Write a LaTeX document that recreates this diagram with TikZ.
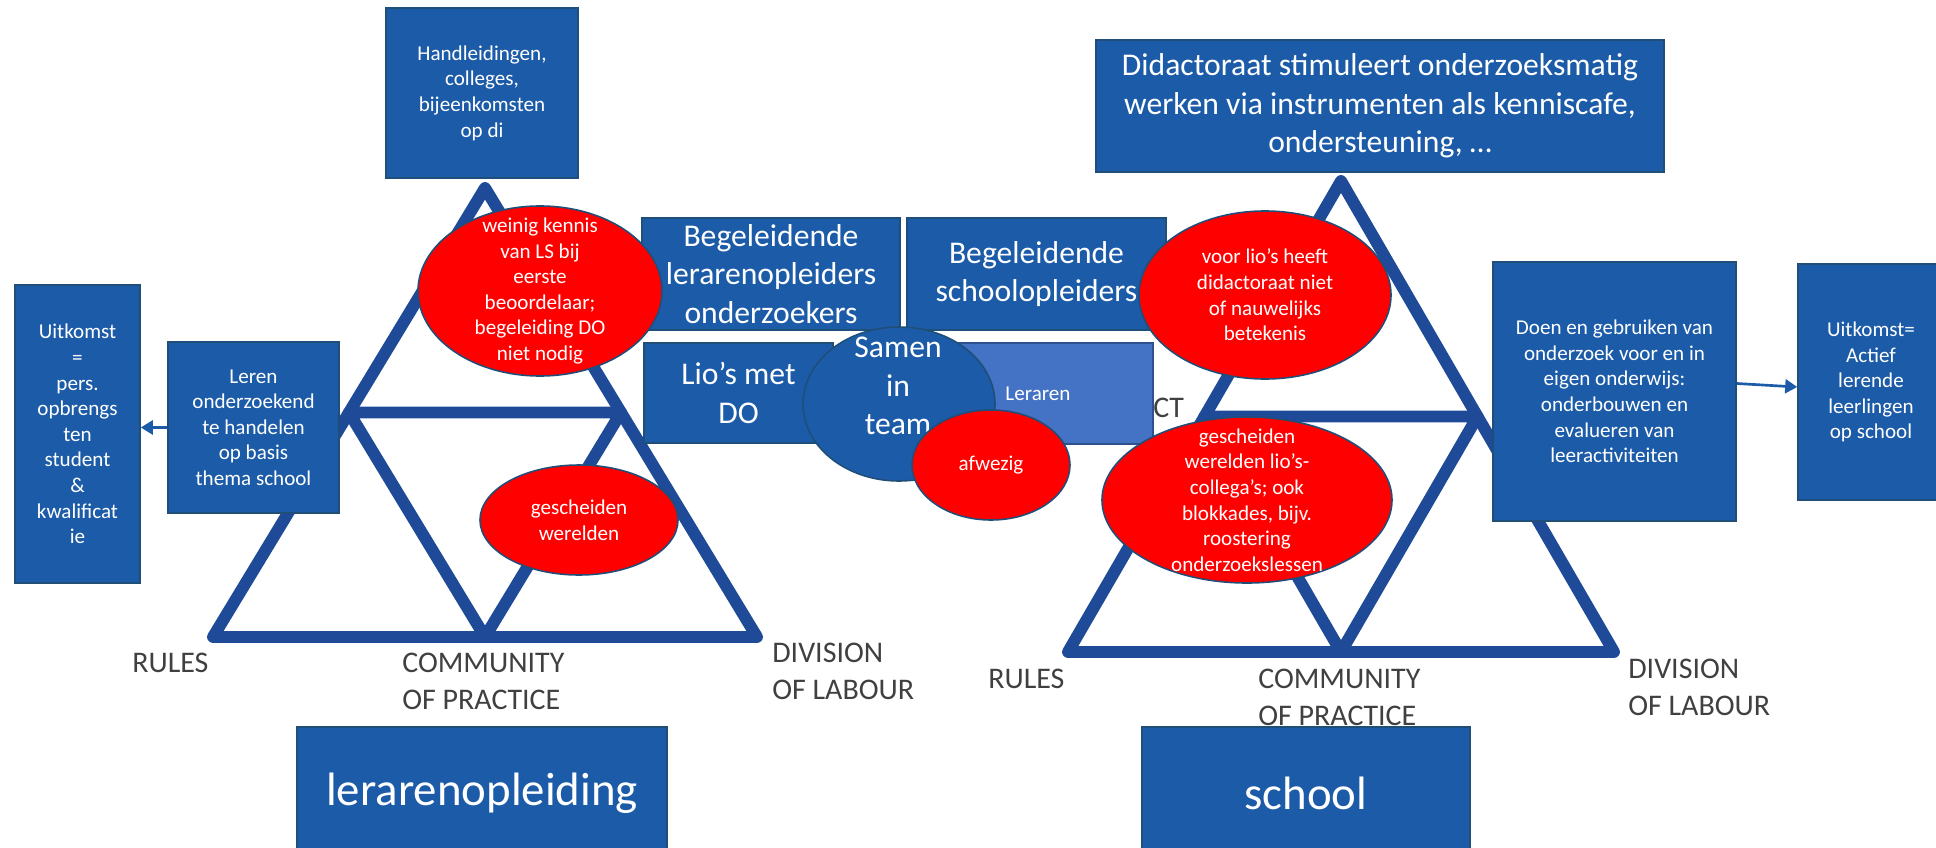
\documentclass[tikz,border=0pt]{standalone}
\usepackage{fontspec}
\setmainfont{Carlito}
\usetikzlibrary{calc,shapes.geometric,arrows.meta}

\definecolor{boxblue}{RGB}{28,91,168}
\definecolor{boxline}{RGB}{31,78,121}
\definecolor{triblue}{RGB}{30,74,152}
\definecolor{lightblue}{RGB}{68,114,196}
\definecolor{lightline}{RGB}{47,82,143}
\definecolor{labelgray}{RGB}{64,64,64}

\newcommand{\fsmall}{\fontsize{15}{18.2}\selectfont}
\newcommand{\fbig}{\fontsize{22.5}{27.4}\selectfont}
\newcommand{\fhuge}{\fontsize{33.3}{40}\selectfont}
\newcommand{\flabel}{\fontsize{21.3}{26.3}\selectfont}

\begin{document}
\begin{tikzpicture}[x=0.025cm, y=-0.025cm,
  box/.style={rectangle, draw=boxline, fill=boxblue, line width=1.1pt, text=white, align=center, inner sep=0pt},
  blob/.style={ellipse, draw=boxline, fill=red, line width=1.1pt, inner sep=0pt},
  blobtext/.style={text=white, align=center, font=\fsmall, inner sep=0pt},
  tri/.style={draw=triblue, line width=8.5pt, line join=round, line cap=round},
  lbl/.style={text=labelgray, font=\flabel, align=left, anchor=north west, inner sep=0pt},
  arr/.style={draw=boxblue, line width=1.9pt, -{Triangle[length=0.3cm, width=0.35cm]}}]
\useasboundingbox (0,0) rectangle (1936,848);

% the two activity triangles
\coordinate (lTop) at (485,188);
\coordinate (lLeft) at (213,637);
\coordinate (lRight) at (757,637);
\coordinate (rTop) at (1341,181);
\coordinate (rLeft) at (1068,652);
\coordinate (rRight) at (1614,652);

\draw [tri] (lTop) -- (lLeft) -- (lRight) -- cycle;
\draw [tri] ($(lTop)!0.5!(lLeft)$) -- ($(lTop)!0.5!(lRight)$) -- ($(lLeft)!0.5!(lRight)$) -- cycle;
\draw [tri] (rTop) -- (rLeft) -- (rRight) -- cycle;
\draw [tri] ($(rTop)!0.5!(rLeft)$) -- ($(rTop)!0.5!(rRight)$) -- ($(rLeft)!0.5!(rRight)$) -- cycle;

% boxes
\node (hand) [box, font=\fsmall, minimum width=4.8cm, minimum height=4.25cm] at (482,93)
  {Handleidingen,\\colleges,\\bijeenkomsten\\op di};
\node (didac) [box, font=\fbig, minimum width=14.2cm, minimum height=3.3cm] at (1380,106)
  {Didactoraat stimuleert onderzoeksmatig\\werken via instrumenten als kenniscafe,\\ondersteuning, …};
\node (uitL) [box, font=\fsmall, minimum width=3.125cm, minimum height=7.45cm] at (77.5,434)
  {Uitkomst\\=\\pers.\\opbrengs\\ten\\student\\\&\\kwalificat\\ie};
\node (leren) [box, font=\fsmall, minimum width=4.275cm, minimum height=4.275cm] at (253.5,427.5)
  {Leren\\onderzoekend\\te handelen\\op basis\\thema school};
\node (begL) [box, font=\fbig, minimum width=6.45cm, minimum height=2.8cm] at (771,274)
  {Begeleidende\\lerarenopleiders\\onderzoekers};
\node (begS) [box, font=\fbig, minimum width=6.475cm, minimum height=2.8cm] at (1036.5,274)
  {Begeleidende\\schoolopleiders};
\node (lio) [box, font=\fbig, minimum width=4.725cm, minimum height=2.5cm] at (738.5,393)
  {Lio’s met\\DO};
\node (leraren) [box, fill=lightblue, draw=lightline, font=\fsmall, minimum width=5.75cm, minimum height=2.525cm] at (1038,393.5)
  {Leraren};
\node (doen) [box, font=\fsmall, minimum width=6.075cm, minimum height=6.475cm] at (1614.5,391.5)
  {Doen en gebruiken van\\onderzoek voor en in\\eigen onderwijs:\\onderbouwen en\\evalueren van\\leeractiviteiten};
\node (uitR) [box, font=\fsmall, minimum width=3.65cm, minimum height=5.9cm] at (1871,382)
  {Uitkomst=\\Actief\\lerende\\leerlingen\\op school};
\node (lerop) [box, font=\fhuge, minimum width=9.25cm, minimum height=3.325cm] at (482,793.5)
  {lerarenopleiding};
\node (school) [box, font=\fhuge, minimum width=8.2cm, minimum height=3.325cm] at (1306,793.5)
  {school};

% team in the middle
\node (samen) [ellipse, draw=boxline, fill=boxblue, line width=1.1pt, minimum width=4.8cm, minimum height=3.85cm] at (899,404) {};
\node (samen-t) [text=white, align=center, font=\fbig, inner sep=0pt] at (898,386) {Samen\\in\\team};

% red remarks
\node (weinig) [blob, minimum width=6.1cm, minimum height=4.25cm] at (540,291) {};
\node (weinig-t) [blobtext] at (weinig) {weinig kennis\\van LS bij\\eerste\\beoordelaar;\\begeleiding DO\\niet nodig};
\node (gesL) [blob, minimum width=4.95cm, minimum height=2.75cm] at (579,520) {};
\node (gesL-t) [blobtext] at (gesL) {gescheiden\\werelden};
\node (afwezig) [blob, minimum width=3.95cm, minimum height=2.75cm] at (991,465) {};
\node (afwezig-t) [blobtext] at (afwezig) {afwezig};
\node (voor) [blob, minimum width=6.3cm, minimum height=4.2cm] at (1265,295) {};
\node (voor-t) [blobtext] at (voor) {voor lio’s heeft\\didactoraat niet\\of nauwelijks\\betekenis};
\node (gesR) [blob, minimum width=7.25cm, minimum height=4.15cm] at (1247,500) {};
\node (gesR-t) [blobtext] at (gesR) {gescheiden\\werelden lio’s-\\collega’s; ook\\blokkades, bijv.\\roostering\\onderzoekslessen};

% corner labels
\node (rulesL) [lbl] at (132,653) {RULES};
\node (commL) [lbl] at (402,653) {COMMUNITY\\OF PRACTICE};
\node (divL) [lbl] at (772,643) {DIVISION\\OF LABOUR};
\node (rulesR) [lbl] at (988,669) {RULES};
\node (commR) [lbl] at (1258,669) {COMMUNITY\\OF PRACTICE};
\node (divR) [lbl] at (1628,659) {DIVISION\\OF LABOUR};
\node (ct) [lbl] at (1153,398) {CT};

% outcomes
\draw [arr] (leren.west) -- (leren.west -| uitL.east);
\draw [arr] ($(doen.east)+(0,-8)$) -- ($(uitR.west)+(0,5)$);

\end{tikzpicture}
\end{document}
